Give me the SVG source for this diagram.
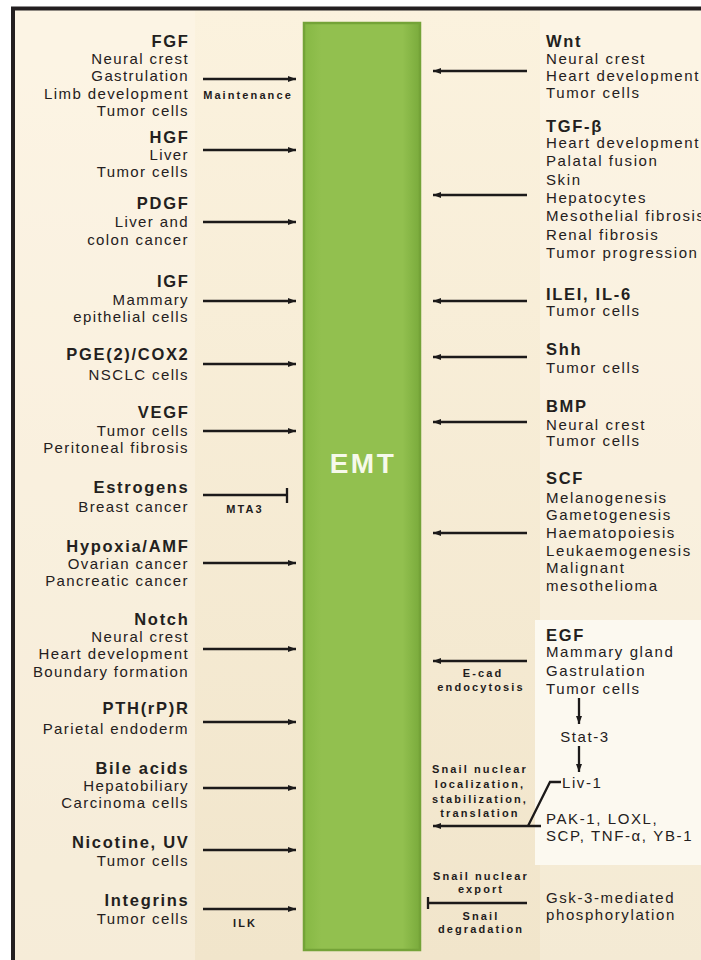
<svg xmlns="http://www.w3.org/2000/svg" width="701" height="960" viewBox="0 0 701 960">
<defs>
<linearGradient id="bg" x1="0" y1="0" x2="0" y2="1">
<stop offset="0" stop-color="#fbf2de"/>
<stop offset="1" stop-color="#f1e5cb"/>
</linearGradient>
<linearGradient id="bar" x1="0" y1="0" x2="1" y2="0">
<stop offset="0" stop-color="#86b844"/>
<stop offset="0.15" stop-color="#92c04f"/>
<stop offset="0.85" stop-color="#92c04f"/>
<stop offset="1" stop-color="#7aab3c"/>
</linearGradient>
<marker id="ah" markerUnits="userSpaceOnUse" markerWidth="9" markerHeight="7" refX="8" refY="3.5" orient="auto">
<path d="M0,0.5 L8,3.5 L0,6.5 z" fill="#1c1a1a"/>
</marker>
<style>
text{font-family:"Liberation Sans",Arial,Helvetica,sans-serif;fill:#231f20}
.t{font-weight:bold;font-size:16.5px;letter-spacing:1.7px}
.s{font-size:15px;letter-spacing:1.4px;fill:#242020}
.L{text-anchor:end}
.R .s{letter-spacing:1.6px}
.lb{font-weight:bold;font-size:11px;letter-spacing:2.1px;text-anchor:middle;fill:#1f1c1c}
.emt{font-weight:bold;font-size:28px;letter-spacing:2.5px;fill:#f6f9ea;text-anchor:middle}
.c{stroke:#1c1a1a;stroke-width:2.3;fill:none}
.a{marker-end:url(#ah)}
</style>
</defs>
<rect width="701" height="960" fill="#ffffff"/>
<rect x="13" y="9" width="688" height="951" fill="url(#bg)"/>
<rect x="15" y="10" width="180" height="950" fill="#fffaf0" opacity="0.35"/>
<rect x="540" y="10" width="161" height="610" fill="#fffaf0" opacity="0.35"/>
<rect x="535" y="620" width="166" height="245" fill="#fcf9f0"/>
<rect x="540" y="865" width="161" height="95" fill="#fffaf0" opacity="0.25"/>
<path d="M13,960 V8.5 H701" fill="none" stroke="#231f20" stroke-width="4"/>

<g id="emt">
<rect x="304" y="23" width="116" height="927" fill="url(#bar)" stroke="#74a338" stroke-width="2.5"/>
<text class="emt" x="363" y="473">EMT</text>
</g>

<g id="connectors">
<line class="c a" x1="203" y1="79" x2="296" y2="79"/>
<line class="c a" x1="203" y1="150" x2="296" y2="150"/>
<line class="c a" x1="203" y1="222" x2="296" y2="222"/>
<line class="c a" x1="203" y1="301" x2="296" y2="301"/>
<line class="c a" x1="203" y1="364" x2="296" y2="364"/>
<line class="c a" x1="203" y1="431" x2="296" y2="431"/>
<line class="c" x1="203" y1="495" x2="287" y2="495"/>
<line class="c" x1="287" y1="488" x2="287" y2="503"/>
<line class="c a" x1="203" y1="563" x2="296" y2="563"/>
<line class="c a" x1="203" y1="649" x2="296" y2="649"/>
<line class="c a" x1="203" y1="722" x2="296" y2="722"/>
<line class="c a" x1="203" y1="788" x2="296" y2="788"/>
<line class="c a" x1="203" y1="850" x2="296" y2="850"/>
<line class="c a" x1="203" y1="909" x2="296" y2="909"/>

<line class="c a" x1="527" y1="71" x2="433" y2="71"/>
<line class="c a" x1="527" y1="195" x2="433" y2="195"/>
<line class="c a" x1="527" y1="301" x2="433" y2="301"/>
<line class="c a" x1="527" y1="357" x2="433" y2="357"/>
<line class="c a" x1="527" y1="422" x2="433" y2="422"/>
<line class="c a" x1="527" y1="533" x2="433" y2="533"/>
<line class="c a" x1="527" y1="661" x2="433" y2="661"/>
<line class="c a" x1="579" y1="698" x2="579" y2="724"/>
<line class="c a" x1="579" y1="746" x2="579" y2="772"/>
<polyline class="c" points="561,782 550,782 528,826"/>
<line class="c a" x1="541" y1="826" x2="433" y2="826"/>
<line class="c" x1="527" y1="903" x2="428" y2="903"/>
<line class="c" x1="428" y1="897" x2="428" y2="909"/>
</g>

<g id="fgf"><text class="t L" x="189.5" y="47">FGF</text>
<text class="s L" x="189" y="64">Neural crest</text><text class="s L" x="189" y="81">Gastrulation</text><text class="s L" x="189" y="99">Limb development</text><text class="s L" x="189" y="116">Tumor cells</text>
<text class="lb" x="248" y="99">Maintenance</text></g>
<g id="hgf"><text class="t L" x="189.5" y="143">HGF</text>
<text class="s L" x="189" y="160">Liver</text><text class="s L" x="189" y="177">Tumor cells</text></g>
<g id="pdgf"><text class="t L" x="189.5" y="209">PDGF</text>
<text class="s L" x="189" y="227">Liver and</text><text class="s L" x="189" y="245">colon cancer</text></g>
<g id="igf"><text class="t L" x="189.5" y="287">IGF</text>
<text class="s L" x="189" y="305">Mammary</text><text class="s L" x="189" y="322">epithelial cells</text></g>
<g id="pge2"><text class="t L" x="189.5" y="360">PGE(2)/COX2</text>
<text class="s L" x="189" y="380">NSCLC cells</text></g>
<g id="vegf"><text class="t L" x="189.5" y="418">VEGF</text>
<text class="s L" x="189" y="436">Tumor cells</text><text class="s L" x="189" y="453">Peritoneal fibrosis</text></g>
<g id="estrogens"><text class="t L" x="189.5" y="493">Estrogens</text>
<text class="s L" x="189" y="512">Breast cancer</text>
<text class="lb" x="245" y="513">MTA3</text></g>
<g id="hypoxia"><text class="t L" x="189.5" y="552">Hypoxia/AMF</text>
<text class="s L" x="189" y="569">Ovarian cancer</text><text class="s L" x="189" y="586">Pancreatic cancer</text></g>
<g id="notch"><text class="t L" x="189.5" y="625">Notch</text>
<text class="s L" x="189" y="642">Neural crest</text><text class="s L" x="189" y="659">Heart development</text><text class="s L" x="189" y="677">Boundary formation</text></g>
<g id="pthrpr"><text class="t L" x="189.5" y="714">PTH(rP)R</text>
<text class="s L" x="189" y="734">Parietal endoderm</text></g>
<g id="bile"><text class="t L" x="189.5" y="774">Bile acids</text>
<text class="s L" x="189" y="791">Hepatobiliary</text><text class="s L" x="189" y="808">Carcinoma cells</text></g>
<g id="nicotine"><text class="t L" x="189.5" y="848">Nicotine, UV</text>
<text class="s L" x="189" y="866">Tumor cells</text></g>
<g id="integrins"><text class="t L" x="189.5" y="906">Integrins</text>
<text class="s L" x="189" y="924">Tumor cells</text>
<text class="lb" x="245" y="927">ILK</text></g>

<g class="R">
<g id="wnt"><text class="t" x="546" y="47">Wnt</text>
<text class="s" x="546" y="64">Neural crest</text><text class="s" x="546" y="81">Heart development</text><text class="s" x="546" y="98">Tumor cells</text></g>
<g id="tgfb"><text class="t" x="546" y="132">TGF-β</text>
<text class="s" x="546" y="148">Heart development</text><text class="s" x="546" y="166">Palatal fusion</text><text class="s" x="546" y="185">Skin</text><text class="s" x="546" y="203">Hepatocytes</text><text class="s" x="546" y="221">Mesothelial fibrosis</text><text class="s" x="546" y="240">Renal fibrosis</text><text class="s" x="546" y="258">Tumor progression</text></g>
<g id="ilei"><text class="t" x="546" y="300">ILEI, IL-6</text>
<text class="s" x="546" y="316">Tumor cells</text></g>
<g id="shh"><text class="t" x="546" y="355">Shh</text>
<text class="s" x="546" y="373">Tumor cells</text></g>
<g id="bmp"><text class="t" x="546" y="412">BMP</text>
<text class="s" x="546" y="430">Neural crest</text><text class="s" x="546" y="446">Tumor cells</text></g>
<g id="scf"><text class="t" x="546" y="484">SCF</text>
<text class="s" x="546" y="503">Melanogenesis</text><text class="s" x="546" y="520">Gametogenesis</text><text class="s" x="546" y="538">Haematopoiesis</text><text class="s" x="546" y="556">Leukaemogenesis</text><text class="s" x="546" y="573">Malignant</text><text class="s" x="546" y="591">mesothelioma</text></g>
<g id="egf"><text class="t" x="546" y="641">EGF</text>
<text class="s" x="546" y="657">Mammary gland</text><text class="s" x="546" y="676">Gastrulation</text><text class="s" x="546" y="694">Tumor cells</text>
<text class="lb" x="483" y="677">E-cad</text><text class="lb" x="481" y="691">endocytosis</text></g>
<g id="stat3"><text class="s" x="585" y="742" text-anchor="middle">Stat-3</text></g>
<g id="liv1"><text class="s" x="562" y="788">Liv-1</text></g>
<g id="snail-loc"><text class="lb" x="480" y="773">Snail nuclear</text><text class="lb" x="480" y="788">localization,</text><text class="lb" x="480" y="803">stabilization,</text><text class="lb" x="480" y="817">translation</text></g>
<g id="pak1"><text class="s" x="546" y="824">PAK-1, LOXL,</text><text class="s" x="546" y="841">SCP, TNF-α, YB-1</text></g>
<g id="snail-export"><text class="lb" x="481" y="880">Snail nuclear</text><text class="lb" x="481" y="893">export</text><text class="lb" x="481" y="920">Snail</text><text class="lb" x="481" y="933">degradation</text></g>
<g id="gsk3"><text class="s" x="546" y="903">Gsk-3-mediated</text><text class="s" x="546" y="920">phosphorylation</text></g>
</g>
</svg>
